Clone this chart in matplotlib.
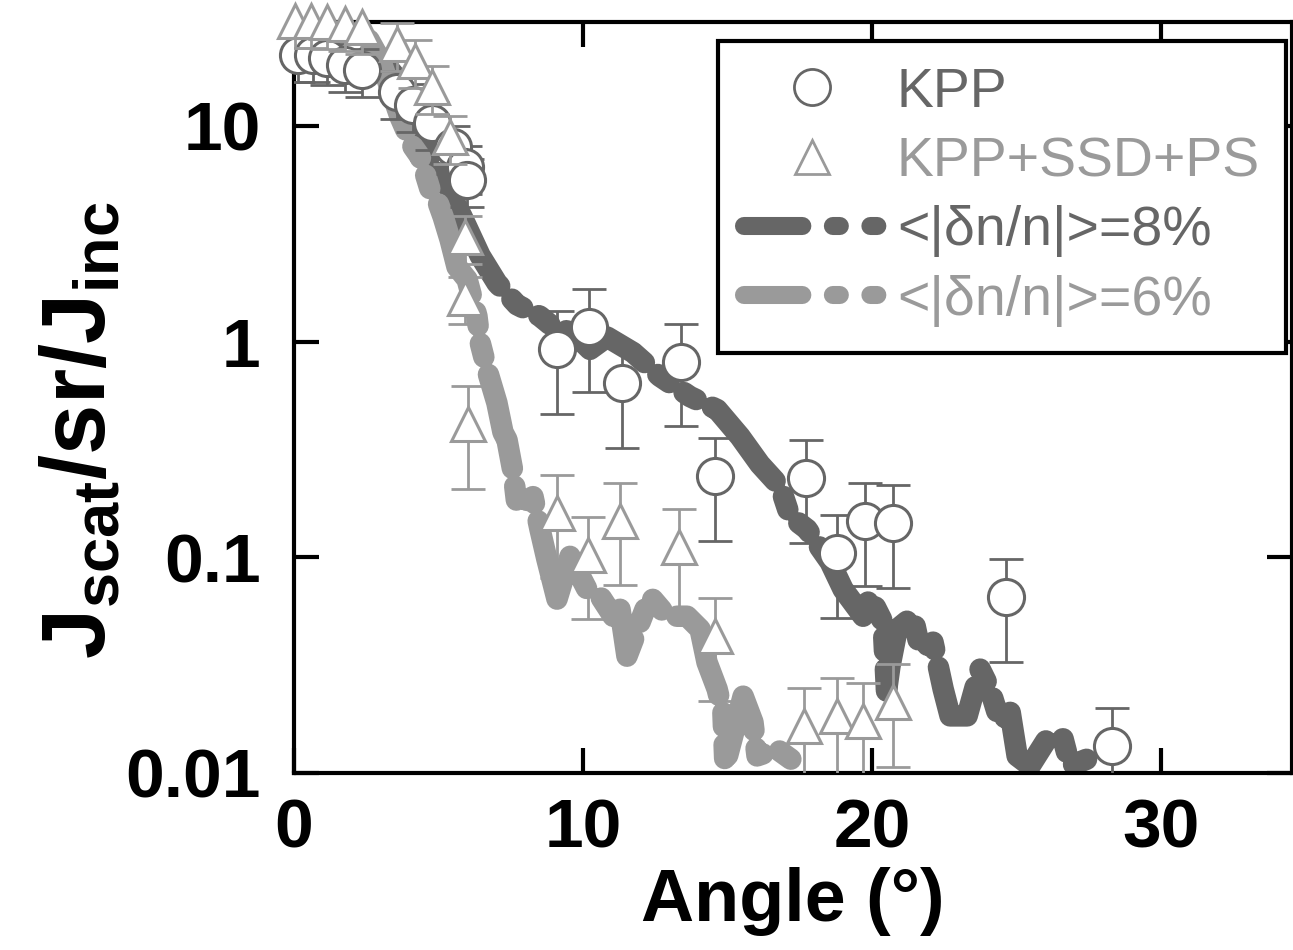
import numpy as np
import matplotlib
matplotlib.use("Agg")
import matplotlib.pyplot as plt
from matplotlib.lines import Line2D

plt.rcParams.update({
    "font.family": "Liberation Sans",
    "mathtext.fontset": "custom",
    "mathtext.rm": "Liberation Sans",
    "mathtext.bf": "Liberation Sans:bold",
    "lines.scale_dashes": False,
})

DARK = "#666666"
LIGHT = "#9a9a9a"

# ---- measured points (KPP, circles) ----
kpp_x = [0.15, 0.65, 1.15, 1.76, 2.35, 3.56, 4.12, 4.78, 5.5, 5.92, 5.99,
         9.10, 10.21, 11.35, 13.39, 14.57, 17.72, 18.79, 19.76, 20.73, 24.64, 28.30]
kpp_y = [21.3, 21.3, 20.7, 19.1, 18.2, 14.4, 12.5, 10.3, 8.0, 6.46, 5.62,
         0.928, 1.17, 0.645, 0.808, 0.237, 0.234, 0.105, 0.147, 0.144, 0.0653, 0.0133]
kpp_rel = [0.25] * 11 + [0.5] * 11

# ---- measured points (KPP+SSD+PS, triangles) ----
ssd_x = [0.03, 0.59, 1.14, 1.76, 2.35, 3.56, 4.19, 4.78, 5.40, 5.92, 5.92, 6.02,
         9.10, 10.17, 11.28, 13.32, 14.57, 17.65, 18.79, 19.69, 20.73]
ssd_y = [30.6, 30.6, 30.3, 29.6, 28.7, 24.0, 20.0, 15.2, 8.9, 3.06, 1.6, 0.413,
         0.161, 0.103, 0.148, 0.112, 0.043, 0.0165, 0.0184, 0.0174, 0.0213]
ssd_rel = [0.25] * 11 + [0.5] * 10

# ---- simulation, <|dn/n|> = 8% ----
sim8_x = [2.5, 2.8, 3.5, 4.2, 4.71, 5.29, 5.81, 6.44, 7.02, 7.72, 8.51, 8.96, 9.65,
          10.24, 10.83, 11.73, 12.66, 13.70, 14.64, 15.43, 16.12, 16.82, 17.16,
          17.75, 18.55, 19.0, 19.69, 19.93, 20.38, 20.5, 20.62, 20.87, 21.42,
          21.66, 22.11, 22.46, 22.70, 23.29, 23.74, 24.08, 24.43, 24.78, 25.02,
          25.47, 26.06, 26.61, 26.85, 27.44, 27.65]
sim8_y = [21.0, 22.0, 17.0, 11.0, 7.0, 5.2, 3.8, 2.5, 1.87, 1.48, 1.31, 1.17, 1.10,
          0.92, 1.05, 0.89, 0.69, 0.556, 0.484, 0.363, 0.270, 0.213, 0.155,
          0.135, 0.095, 0.071, 0.0533, 0.0659, 0.050, 0.024, 0.0313, 0.0464, 0.0533,
          0.0375, 0.0404, 0.0245, 0.0184, 0.0184, 0.0303, 0.0245, 0.0172, 0.0191, 0.0120,
          0.0108, 0.0144, 0.0144, 0.0108, 0.0116, 0.0104]

# ---- simulation, <|dn/n|> = 6% ----
sim6_x = [2.6, 3.0, 3.67, 4.12, 4.36, 4.71, 4.95, 5.16, 5.40, 5.64, 5.99, 6.33,
          6.44, 6.68, 7.02, 7.23, 7.37, 7.58, 7.72, 8.27, 8.51, 8.75, 9.10, 9.55,
          10.14, 10.59, 11.04, 11.28, 11.52, 12.32, 12.91, 13.60, 14.05, 14.29,
          14.64, 14.84, 14.91, 15.54, 15.88, 16.02, 16.71, 17.51]
sim6_y = [25.0, 20.0, 11.0, 8.0, 7.2, 5.06, 4.54, 3.79, 2.97, 2.22, 1.94, 1.31,
          0.99, 0.74, 0.52, 0.38, 0.35, 0.248, 0.172, 0.191, 0.135, 0.098, 0.064, 0.101,
          0.071, 0.066, 0.0533, 0.0574, 0.0348, 0.066, 0.0533, 0.0533, 0.0464, 0.0326,
          0.0245, 0.0191, 0.0108, 0.0227, 0.0172, 0.0120, 0.0129, 0.0108]

LEG_DASH = (42, 22, 5, 22, 5, 22)
DATA_DASH = (70, 13, 10, 13, 10, 13)

fig = plt.figure(figsize=(12.93, 9.5), dpi=100)
ax = fig.add_axes([294 / 1293, (950 - 773) / 950, (1292 - 294) / 1293, (773 - 22) / 950])

cap = dict(dash_capstyle="round", solid_capstyle="round")
ax.plot(sim8_x, sim8_y, color=DARK, lw=15.5, dashes=DATA_DASH, zorder=2, **cap)
ax.plot(sim6_x, sim6_y, color=LIGHT, lw=15.5, dashes=DATA_DASH, zorder=2, **cap)

ky = np.array(kpp_y); sy = np.array(ssd_y)
ax.errorbar(kpp_x, ky, yerr=ky * np.array(kpp_rel), fmt="none", ecolor=DARK,
            elinewidth=2, capsize=12, capthick=2, zorder=3)
ax.plot(kpp_x, ky, "o", ms=26, mfc="white", mec=DARK, mew=2.2, zorder=4, clip_on=False)
ax.errorbar(ssd_x, sy, yerr=sy * np.array(ssd_rel), fmt="none", ecolor=LIGHT,
            elinewidth=2, capsize=12, capthick=2, zorder=5)
ax.plot(ssd_x, sy, "^", ms=25, mfc="white", mec=LIGHT, mew=2.2, zorder=6, clip_on=False)

ax.set_yscale("log")
ax.set_xlim(0, 34.53)
ax.set_ylim(0.01, 30.3)
ax.set_xticks([0, 10, 20, 30])
ax.set_xticklabels(["0", "10", "20", "30"])
ax.set_yticks([0.01, 0.1, 1, 10])
ax.set_yticklabels(["0.01", "0.1", "1", "10"])
ax.minorticks_off()
ax.tick_params(which="major", direction="in", length=18, width=3,
               top=True, right=True, labelsize=50)
ax.tick_params(axis="x", pad=18)
ax.tick_params(axis="y", pad=24)
for lab in ax.get_xticklabels() + ax.get_yticklabels():
    lab.set_fontweight("bold")
for s in ax.spines.values():
    s.set_linewidth(3)

ax.set_xlabel("Angle (°)", fontsize=53, fontweight="bold")
ax.xaxis.set_label_coords(0.5, -0.125)
ax.set_ylabel(r"$\mathbf{J_{scat}/sr/J_{inc}}$", fontsize=65)
ax.yaxis.set_label_coords(-0.17, 0.457)

handles = [
    Line2D([], [], ls="none", marker="o", ms=26, mfc="white", mec=DARK, mew=2),
    Line2D([], [], ls="none", marker="^", ms=25, mfc="white", mec=LIGHT, mew=2),
    Line2D([], [], color=DARK, lw=13, dashes=LEG_DASH, **cap),
    Line2D([], [], color=LIGHT, lw=13, dashes=LEG_DASH, **cap),
]
labels = ["KPP", "KPP+SSD+PS", "<|δn/n|>=8%", "<|δn/n|>=6%"]
leg = ax.legend(handles, labels, loc="upper right", bbox_to_anchor=(0.994, 0.975),
                borderaxespad=0, prop={"family": "Liberation Sans", "size": 40},
                handlelength=2.45, handletextpad=0.3, labelspacing=0.31,
                borderpad=0.47, fancybox=False, framealpha=1, edgecolor="black")
leg.get_frame().set_linewidth(3)
leg.set_zorder(10)
for t, c in zip(leg.get_texts(), [DARK, LIGHT, DARK, LIGHT]):
    t.set_color(c)

fig.savefig("out.png", dpi=100)
